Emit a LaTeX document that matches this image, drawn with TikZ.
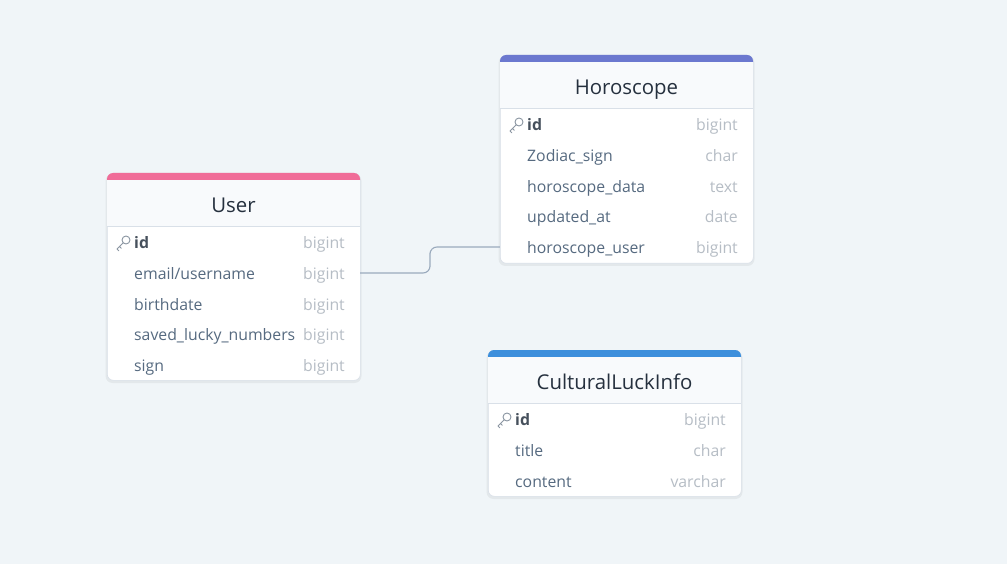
\documentclass[tikz,border=0pt]{standalone}
\usepackage{fontspec}
\setmainfont{Open Sans}
\usetikzlibrary{calc}
\definecolor{canvas}{HTML}{F0F5F8}
\definecolor{headfill}{HTML}{F8FAFC}
\definecolor{rule}{HTML}{D9E0E8}
\definecolor{titlecol}{HTML}{25303E}
\definecolor{fieldcol}{HTML}{566A80}
\definecolor{idcol}{HTML}{46505C}
\definecolor{typecol}{HTML}{B6BDC5}
\definecolor{keycol}{HTML}{8B96A2}
\definecolor{linkcol}{HTML}{9AAABD}
\definecolor{userbar}{HTML}{F06C98}
\definecolor{horobar}{HTML}{6B78CF}
\definecolor{luckbar}{HTML}{3D8FDC}
\tikzset{
  card/.style={draw=rule, line width=0.6pt, fill=white, rounded corners=6pt,
    anchor=north west, minimum width=253pt, inner sep=0pt},
  cardshadow/.style={fill=black, opacity=0.05, rounded corners=7pt},
  rowbox/.style={minimum width=253pt, minimum height=30.7pt, inner sep=0pt},
  title/.style={font=\fontsize{20.4}{24}\selectfont, text=titlecol, inner sep=0pt, anchor=base},
  field/.style={font=\fontsize{15.8}{18}\selectfont, text=fieldcol, anchor=base west, inner sep=0pt, yshift=-1.5pt},
  idfield/.style={field, text=idcol, font=\fontsize{15.8}{18}\selectfont\bfseries},
  ftype/.style={font=\fontsize{15.8}{18}\selectfont, text=typecol, anchor=base east, inner sep=0pt, yshift=-1.5pt},
  link/.style={draw=linkcol, line width=1.1pt, rounded corners=7pt},
  keyicon/.style={draw=keycol, line width=0.9pt, line cap=round, line join=round}
}
% primary-key glyph; #1,#2 is the centre of its row
\newcommand{\pkglyph}[2]{%
  \draw[keyicon] ($(#1,#2)+(3,-2)$) circle[radius=4pt];
  \draw[keyicon] ($(#1,#2)+(0.2,0.8)$) -- ($(#1,#2)+(-6,7)$)
     ($(#1,#2)+(-3.5,4.5)$) -- ($(#1,#2)+(-1.7,6.3)$)
     ($(#1,#2)+(-6,7)$) -- ($(#1,#2)+(-4.3,8.7)$);
}
\begin{document}
\begin{tikzpicture}[x=1pt,y=-1pt]
\fill[canvas] (0,0) rectangle (1007,564);
\useasboundingbox (0,0) rectangle (1007,564);

% ---------- User ----------
\fill[cardshadow] (105.5,174) rectangle (361.5,383);
\node[card, minimum height=207pt] (user) at (107,173) {};
\fill[userbar, rounded corners=6pt] (107,173) rectangle (360,186);
\fill[headfill] (107.3,180) rectangle (359.7,226);
\draw[rule, line width=0.8pt] (107,226) -- (360,226);
\node[title] (user-title) at (233.5,212.5) {User};
\node[rowbox] (user-id) at (233.5,242) {};
\node[rowbox] (user-email) at (233.5,273) {};
\node[rowbox] (user-birth) at (233.5,304) {};
\node[rowbox] (user-lucky) at (233.5,334) {};
\node[rowbox] (user-sign) at (233.5,365) {};
\pkglyph{123}{242}
\node[idfield] at (134,247) {id};
\node[field] at (134,278) {email/username};
\node[field] at (134,309) {birthdate};
\node[field] at (134,339) {saved\_lucky\_numbers};
\node[field] at (134,370) {sign};
\foreach \y in {247,278,309,339,370} \node[ftype] at (345,\y) {bigint};

% ---------- Horoscope ----------
\fill[cardshadow] (498.5,56) rectangle (754.5,266);
\node[card, minimum height=208pt] (horo) at (500,55) {};
\fill[horobar, rounded corners=6pt] (500,55) rectangle (753,68);
\fill[headfill] (500.3,62) rectangle (752.7,108);
\draw[rule, line width=0.8pt] (500,108) -- (753,108);
\node[title] (horo-title) at (626.5,94.5) {Horoscope};
\node[rowbox] (horo-id) at (626.5,124) {};
\node[rowbox] (horo-sign) at (626.5,155) {};
\node[rowbox] (horo-data) at (626.5,186) {};
\node[rowbox] (horo-upd) at (626.5,216) {};
\node[rowbox] (horo-user) at (626.5,247) {};
\pkglyph{516}{124}
\node[idfield] at (527,129) {id};
\node[field] at (527,160) {Zodiac\_sign};
\node[field] at (527,191) {horoscope\_data};
\node[field] at (527,221) {updated\_at};
\node[field] at (527,252) {horoscope\_user};
\node[ftype] at (738,129) {bigint};
\node[ftype] at (738,160) {char};
\node[ftype] at (738,191) {text};
\node[ftype] at (738,221) {date};
\node[ftype] at (738,252) {bigint};

% ---------- CulturalLuckInfo ----------
\fill[cardshadow] (486.5,351) rectangle (742.5,499);
\node[card, minimum height=146pt] (luck) at (488,350) {};
\fill[luckbar, rounded corners=6pt] (488,350) rectangle (741,363);
\fill[headfill] (488.3,357) rectangle (740.7,403);
\draw[rule, line width=0.8pt] (488,403) -- (741,403);
\node[title] (luck-title) at (614.5,389.5) {CulturalLuckInfo};
\node[rowbox] (luck-id) at (614.5,419) {};
\node[rowbox] (luck-title-row) at (614.5,450) {};
\node[rowbox] (luck-content) at (614.5,481) {};
\pkglyph{504}{419}
\node[idfield] at (515,424) {id};
\node[field] at (515,455) {title};
\node[field] at (515,486) {content};
\node[ftype] at (726,424) {bigint};
\node[ftype] at (726,455) {char};
\node[ftype] at (726,486) {varchar};

% ---------- relation ----------
\draw[link] (user-email.east) -| ($(user-email.east)!0.5!(horo-user.west)$) |- (horo-user.west);
\end{tikzpicture}
\end{document}
